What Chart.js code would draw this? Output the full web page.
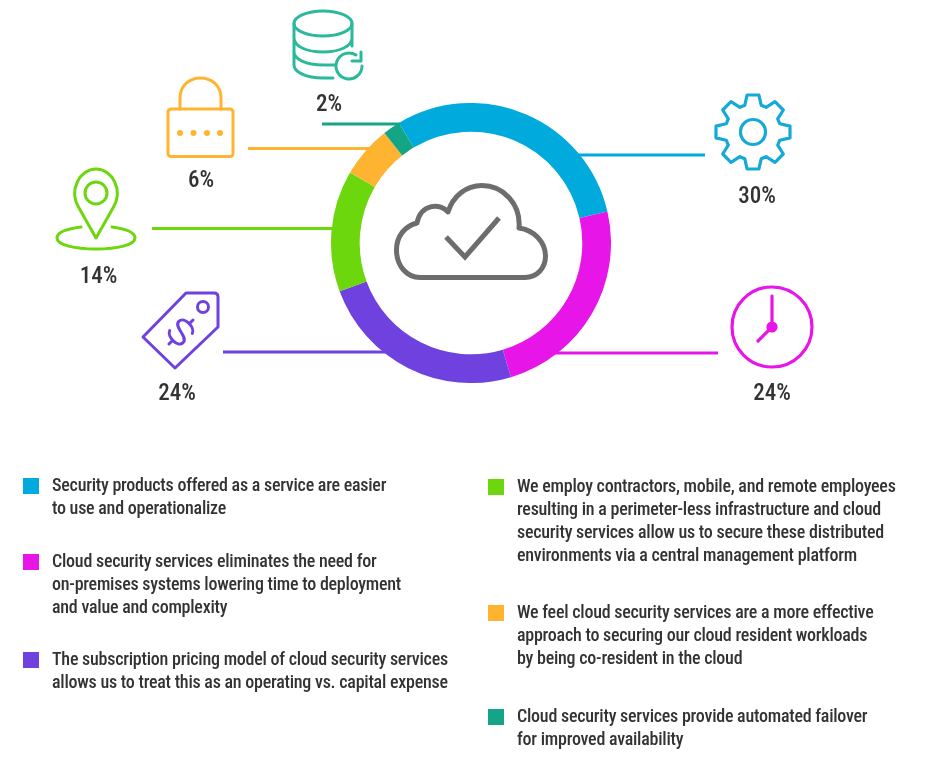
<!DOCTYPE html>
<html>
<head>
<meta charset="utf-8">
<style>
html, body { margin: 0; padding: 0; background: #fff; }
#page { position: relative; width: 930px; height: 758px; overflow: hidden; font-family: "Roboto", sans-serif; color: #333; }
#page svg { position: absolute; left: 0; top: 0; }
#ringBox { position: absolute; left: 331px; top: 103px; width: 280px; height: 280px; }
.pct { position: absolute; width: 80px; margin-left: -40px; text-align: center; font-size: 23px; font-weight: 500; line-height: 24px; height: 24px; margin-top: -11px; font-stretch: 85%; }
.sq { position: absolute; width: 16px; height: 16px; }
.line { position: absolute; font-size: 18px; font-weight: 500; line-height: 23px; height: 23px; margin-top: -12.5px; white-space: nowrap; font-stretch: 75%; letter-spacing: -0.24px; }
</style>
</head>
<body>
<div id="page">
  <svg id="lines" width="930" height="758"></svg>
  <div id="ringBox"><canvas id="ring" width="280" height="280"></canvas></div>
  <svg id="icons" width="930" height="758" fill="none" stroke-linecap="round" stroke-linejoin="round"></svg>
</div>
<script src="https://cdn.jsdelivr.net/npm/chart.js@4"></script>
<script>
const categories = [
    ['Security products offered as a service are easier', 'to use and operationalize'],
    ['Cloud security services eliminates the need for', 'on-premises systems lowering time to deployment', 'and value and complexity'],
    ['The subscription pricing model of cloud security services', 'allows us to treat this as an operating vs. capital expense'],
    ['We employ contractors, mobile, and remote employees', 'resulting in a perimeter-less infrastructure and cloud', 'security services allow us to secure these distributed', 'environments via a central management platform'],
    ['We feel cloud security services are a more effective', 'approach to securing our cloud resident workloads', 'by being co-resident in the cloud'],
    ['Cloud security services provide automated failover', 'for improved availability']
];
const values = [30, 24, 24, 14, 6, 2];
const colors = ['#00aadc', '#e815e8', '#6f42e0', '#6bd70c', '#ffb431', '#14a586'];
const iconColors = ['#14a9d8', '#e815e8', '#6f42e0', '#6bd70c', '#ffb431', '#2bb99a'];

// layout, same order as the values
const leaders = [[578, 705, 155], [555, 718, 353], [223, 385, 352], [152, 335, 228.5], [248, 372, 148.5], [322, 400, 124]];
const pctPos = [[757, 195], [772, 392], [177, 392], [98.5, 275], [201, 179], [329, 103]];
const legendPos = [[23, 485], [23, 561], [23, 659], [488, 486], [488, 612], [488, 716]];
const LINE_H = 23;

const page = document.getElementById('page');

new Chart(document.getElementById('ring'), {
    type: 'doughnut',
    data: {
        labels: categories.map(c => c.join(' ')),
        datasets: [{ data: values, backgroundColor: colors, borderWidth: 0 }]
    },
    options: {
        responsive: false,
        animation: false,
        cutout: '79.5%',
        rotation: -31,
        plugins: { legend: { display: false }, tooltip: { enabled: false } }
    }
});

// leader lines sit under the ring
let s = '';
leaders.forEach(function (l, i) {
    s += '<line x1="' + l[0] + '" x2="' + l[1] + '" y1="' + l[2] + '" y2="' + l[2] + '" stroke="' + colors[i] + '" stroke-width="3"/>';
});
document.getElementById('lines').innerHTML = s;

// percent labels
values.forEach(function (v, i) {
    const d = document.createElement('div');
    d.className = 'pct';
    d.style.left = pctPos[i][0] + 'px';
    d.style.top = pctPos[i][1] + 'px';
    d.textContent = v + '%';
    page.appendChild(d);
});

// legend
categories.forEach(function (lines, i) {
    const sq = document.createElement('div');
    sq.className = 'sq';
    sq.style.left = legendPos[i][0] + 'px';
    sq.style.top = (legendPos[i][1] - 7) + 'px';
    sq.style.background = colors[i];
    page.appendChild(sq);
    lines.forEach(function (t, j) {
        const d = document.createElement('div');
        d.className = 'line';
        d.style.left = (legendPos[i][0] + 29) + 'px';
        d.style.top = (legendPos[i][1] + j * LINE_H) + 'px';
        d.textContent = t;
        page.appendChild(d);
    });
});

// gear outline
function gearPath(cx, cy) {
    let p = [];
    for (let k = 0; k < 8; k++) {
        const a = k * 45 - 90;
        [[28, -17], [37.5, -9], [37.5, 9], [28, 17]].forEach(function (q) {
            const r = (a + q[1]) * Math.PI / 180;
            p.push((cx + q[0] * Math.cos(r)).toFixed(1) + ' ' + (cy + q[0] * Math.sin(r)).toFixed(1));
        });
    }
    return 'M' + p.join('L') + 'Z';
}

document.getElementById('icons').innerHTML =
    // cloud with check
    '<g stroke="#6d6d6d" stroke-width="5">' +
    '<path d="M420 277.5H525C537 277.5 545.5 268 545.5 256C545.5 242 534 230 519 228C521 204 503 185.5 482 185.5C466 185.5 453 196 448 212C441 203 421 203 417 223C405 226 396.5 236 396.5 250C396.5 266 407 277.5 420 277.5Z"/>' +
    '<path stroke-linecap="butt" stroke-linejoin="miter" d="M446 237L465 257L499 218"/></g>' +
    // gear
    '<g stroke="' + iconColors[0] + '" stroke-width="3.2"><path d="' + gearPath(753, 132) + '"/><circle cx="753" cy="132" r="12.5"/></g>' +
    // clock
    '<g stroke="' + iconColors[1] + '" stroke-width="3.2"><circle cx="772" cy="327" r="40"/><path d="M772 296V327L758 341"/><circle cx="772" cy="327" r="4" fill="' + iconColors[1] + '"/></g>' +
    // price tag
    '<g stroke="' + iconColors[2] + '" stroke-width="3"><path d="M186 293H214Q218 293 218 297V327L175 368L143 337Z"/><circle cx="203" cy="307" r="5.5"/>' +
    '<g transform="rotate(45 181 332)"><path d="M190 325C188 319 172 318 172 326C172 334 190 330 190 338C190 346 174 345 172 339"/><path d="M181 315V320M181 344V349"/></g></g>' +
    // pin
    '<g stroke="' + iconColors[3] + '" stroke-width="3"><path d="M96 238L79 208C68 190 80 169 96 169C112 169 124 190 113 208Z"/><circle cx="96" cy="193" r="11"/>' +
    '<path d="M81 227C65 229 57 233 57 238C57 245 75 249 96 249C117 249 135 245 135 238C135 233 127 229 112 227"/></g>' +
    // lock
    '<g stroke="' + iconColors[4] + '" stroke-width="3"><rect x="168" y="109" width="65" height="47.5" rx="3"/><path d="M180 109V98C180 85 190 78 200.5 78C211 78 221 85 221 98V109"/></g>' +
    '<g fill="' + iconColors[4] + '"><circle cx="180" cy="133" r="3"/><circle cx="193.5" cy="133" r="3"/><circle cx="207" cy="133" r="3"/><circle cx="220" cy="133" r="3"/></g>' +
    // database with refresh
    '<g stroke="' + iconColors[5] + '" stroke-width="3"><ellipse cx="323" cy="23.5" rx="29" ry="12.5"/>' +
    '<path d="M294 24V65C294 72 306 78 323 78H333M352 24V46M294 38C294 46 306 52 323 52C340 52 352 46 352 38M294 52C294 59 306 65 323 65H335"/>' +
    '<path d="M362 66A13 13 0 1 1 356 55"/><path d="M361 52V61H352"/></g>';
</script>
</body>
</html>
